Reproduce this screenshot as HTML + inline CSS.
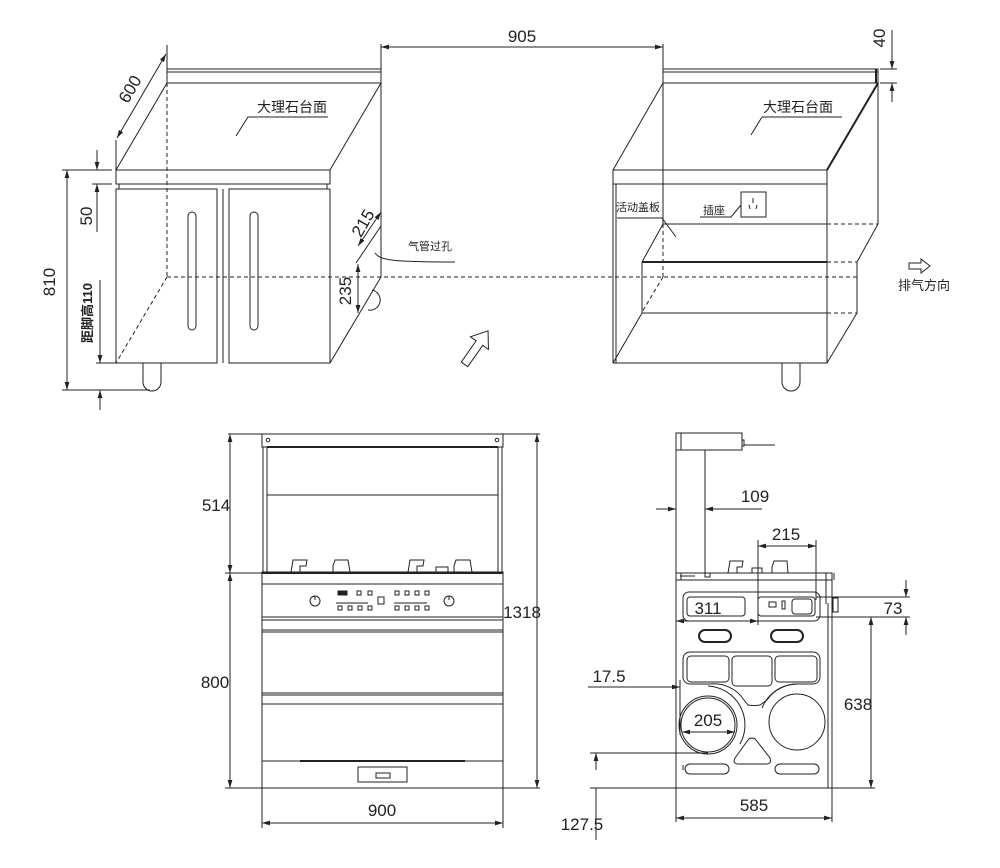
<!DOCTYPE html>
<html><head><meta charset="utf-8"><style>
html,body{margin:0;padding:0;background:#fff}
svg{display:block}
text{font-family:"Liberation Sans","Noto Sans CJK SC",sans-serif;fill:#222}
.d{font-size:17px;font-family:"Liberation Sans",sans-serif}
.c{font-size:13px}
</style></head><body>
<svg width="1000" height="868" viewBox="0 0 1000 868" xmlns="http://www.w3.org/2000/svg">
<defs>
<marker id="a" viewBox="0 0 10 10" refX="10" refY="5" markerWidth="8" markerHeight="8" orient="auto-start-reverse" markerUnits="userSpaceOnUse"><path d="M0,2L10,5L0,8z" fill="#222"/></marker>
</defs>
<g stroke="#222" fill="none" stroke-width="1">
<!-- LEFT CABINET -->
<rect x="167" y="69" width="214" height="14"/>
<line x1="167" y1="72" x2="381" y2="72"/>
<path d="M116,170 L167,83 M330,170 L381,83"/>
<rect x="116" y="170" width="214" height="14"/>
<path d="M119,184 V189 M327,184 V189"/>
<rect x="116" y="189" width="101" height="174"/>
<rect x="229" y="189" width="101" height="174"/>
<path d="M217,189 V363 M223,189 V363"/>
<rect x="188" y="212" width="8" height="118" rx="4"/>
<rect x="250" y="212" width="8" height="118" rx="4"/>
<path d="M381,83 V277 L330,363"/>
<path d="M143,363 V382 A9,9 0 0 0 161,382 V363"/>
<path d="M372,290 A10,10 0 0 1 368,310" />
<path d="M167,83 V277 M167,277 H860 M167,277 L116,363" stroke-dasharray="4,3"/>
<!-- dims left -->
<path d="M62,170 H112 M62,390 H150"/>
<line x1="67" y1="170" x2="67" y2="390" marker-start="url(#a)" marker-end="url(#a)"/>
<path d="M97,150 V170 M97,184 V232 M92,184 H112"/>
<line x1="97" y1="152" x2="97" y2="170" marker-end="url(#a)"/>
<line x1="97" y1="202" x2="97" y2="184" marker-end="url(#a)"/>
<line x1="100" y1="280" x2="100" y2="363" marker-end="url(#a)"/>
<line x1="100" y1="410" x2="100" y2="390" marker-end="url(#a)"/>
<path d="M96,363 H116"/>
<path d="M116,140 V170 M167,45 V69"/>
<line x1="117" y1="138" x2="166" y2="54" marker-start="url(#a)" marker-end="url(#a)"/>
<line x1="381" y1="44" x2="381" y2="69"/>
<line x1="663" y1="44" x2="663" y2="69"/>
<line x1="381" y1="47" x2="663" y2="47" marker-start="url(#a)" marker-end="url(#a)"/>
<line x1="358" y1="246" x2="381" y2="212" marker-start="url(#a)" marker-end="url(#a)"/>
<path d="M356,263 L381,226"/>
<line x1="358" y1="264" x2="358" y2="313" marker-start="url(#a)" marker-end="url(#a)"/>
<path d="M375,253 C380,260 390,262 455,262"/>
<path d="M236,136 L248,117 H328"/>
<path transform="translate(476,348) rotate(35)" d="M0,-21 L-11,-6 H-4 V20 H4 V-6 H11 Z"/>
<!-- RIGHT CABINET -->
<rect x="663" y="69" width="215" height="14"/>
<line x1="663" y1="72" x2="878" y2="72"/>
<line x1="876" y1="69" x2="876" y2="83" stroke-width="2"/>
<path d="M613,170 L663,83 M827,170 L878,83"/>
<line x1="827" y1="170" x2="878" y2="83" stroke-width="2"/>
<rect x="613" y="170" width="214" height="14"/>
<path d="M613,184 V363 H827 V184 M616,184 V363"/>
<path d="M878,83 V224 L857,262 V313 L827,363"/>
<path d="M663,47 V224 M663,224 H827 M663,224 L642,262 V313 H827 M642,313 L613,363"/>
<line x1="642" y1="262" x2="827" y2="262" stroke-width="2"/>
<path d="M827,224 H878 M827,262 H857 M827,313 H857 M663,224 V277 M580,277 H663 M663,277 L642,312" stroke-dasharray="4,3"/>
<path d="M782,363 V382 A9,9 0 0 0 800,382 V363"/>
<path d="M751,135 L762,117 H842"/>
<path d="M617,218 H662 L676,237"/>
<path d="M700,217 H731 L741,205"/>
<rect x="741" y="192" width="25" height="25"/>
<path d="M753,198 V203 M749,205 L750,209 M757,205 L756,209"/>
<path d="M880,69 H897 M880,83 H897"/>
<line x1="892" y1="30" x2="892" y2="69" marker-end="url(#a)"/>
<line x1="892" y1="102" x2="892" y2="83" marker-end="url(#a)"/>
<path d="M909,263 H921 V259 L930,266 L921,273 V269 H909 Z"/>
<!-- FRONT VIEW -->
<rect x="262" y="434" width="241" height="13"/>
<circle cx="268" cy="440" r="1.8"/><circle cx="497" cy="440" r="1.8"/>
<line x1="267" y1="447" x2="498" y2="447" stroke-width="2"/>
<path d="M263,447 V572 M267,447 V572 M498,447 V572 M502,447 V572 M267,495 H498"/>
<path d="M291,572 L293,560 H307 L306,566 H300 V572 M333,572 V566 L335,560 H348 L350,572 M408,572 L410,560 H424 L423,566 H417 V572 M454,572 V566 L456,560 H470 L472,572"/>
<rect x="436" y="567" width="12" height="5"/>
<rect x="262" y="572" width="241" height="216"/>
<line x1="262" y1="573" x2="503" y2="573" stroke-width="2"/>
<path d="M262,584 H503 M262,617 H503 M262,620 H503 M262,630 H503 M262,632 H503 M262,693 H503 M262,695 H503 M262,704 H503 M262,761 H503"/>
<line x1="300" y1="761" x2="465" y2="761" stroke-width="2"/>
<circle cx="315" cy="601" r="5"/><circle cx="449" cy="601" r="5"/>
<path d="M315,596 V600 M449,596 V600"/>
<path d="M336,603 H368 M394,603 H427"/>
<g stroke-width="1">
<rect x="338" y="591" width="9" height="4" fill="#222"/>
<rect x="357" y="591" width="4" height="4"/><rect x="368" y="591" width="4" height="4"/>
<rect x="338" y="606" width="4" height="4"/><rect x="348" y="606" width="4" height="4"/><rect x="358" y="606" width="4" height="4"/><rect x="368" y="606" width="4" height="4"/>
<rect x="378" y="597" width="6" height="7"/>
<rect x="395" y="591" width="4" height="4"/><rect x="405" y="591" width="4" height="4"/><rect x="415" y="591" width="4" height="4"/><rect x="425" y="591" width="4" height="4"/>
<rect x="395" y="606" width="4" height="4"/><rect x="405" y="606" width="4" height="4"/><rect x="415" y="606" width="4" height="4"/><rect x="425" y="606" width="4" height="4"/>
</g>
<rect x="358" y="767" width="49" height="15"/>
<rect x="376" y="773" width="14" height="5"/>
<path d="M228,434 H540 M225,788 H540 M225,573 H262 M262,788 V828 M503,788 V828"/>
<line x1="230" y1="434" x2="230" y2="573" marker-start="url(#a)" marker-end="url(#a)"/>
<line x1="230" y1="573" x2="230" y2="788" marker-start="url(#a)" marker-end="url(#a)"/>
<line x1="537" y1="434" x2="537" y2="788" marker-start="url(#a)" marker-end="url(#a)"/>
<line x1="262" y1="823" x2="503" y2="823" marker-start="url(#a)" marker-end="url(#a)"/>
<!-- SIDE VIEW -->
<rect x="676" y="433" width="66" height="17"/>
<path d="M681,433 V450 M742,440 H744 V446 H742 M744,445 H775 M676,450 V573 M705,450 V575"/>
<rect x="705" y="573" width="5" height="4"/>
<line x1="656" y1="509" x2="676" y2="509" marker-end="url(#a)"/>
<line x1="762" y1="509" x2="705" y2="509" marker-end="url(#a)"/>
<path d="M728,573 L730,561 H743 L742,567 H737 V573 M772,573 V567 L774,561 H787 L788,573 M752,573 V568 H762 V573"/>
<rect x="676" y="573" width="156" height="215"/>
<path d="M676,580 H832 M681,573 V580 M834,573 V580 M680,576 H695 M826,573 V604 M832,580 V788"/>
<path d="M828,603 V788"/>
<line x1="758" y1="546" x2="816" y2="546" marker-start="url(#a)" marker-end="url(#a)"/>
<path d="M758,540 V625 M816,540 V600"/>
<rect x="683" y="592" width="137" height="29" rx="6"/>
<rect x="687" y="597" width="58" height="19" rx="3"/>
<rect x="758" y="597" width="57" height="19" rx="3"/>
<rect x="769" y="602" width="7" height="5"/><rect x="782" y="601" width="3" height="8"/>
<rect x="792" y="599" width="20" height="15" rx="3"/>
<line x1="676" y1="621" x2="758" y2="621" marker-start="url(#a)" marker-end="url(#a)"/>
<rect x="833" y="598" width="5" height="14"/>
<path d="M816,597 H910 M816,617 H910"/>
<line x1="906" y1="580" x2="906" y2="597" marker-end="url(#a)"/>
<line x1="906" y1="635" x2="906" y2="617" marker-end="url(#a)"/>
<line x1="871" y1="617" x2="871" y2="788" marker-start="url(#a)" marker-end="url(#a)"/>
<path d="M832,788 H875"/>
<rect x="699" y="630" width="32" height="12" rx="6" stroke-width="2"/>
<rect x="771" y="630" width="32" height="12" rx="6" stroke-width="2"/>
<path d="M690,652 H813 A7,7 0 0 1 820,659 V677 A7,7 0 0 1 813,684 H798 A36,36 0 0 0 767,700 L760,705 A36,36 0 0 1 748,705 L744,700 A36,36 0 0 0 710,684 H690 A7,7 0 0 1 683,677 V659 A7,7 0 0 1 690,652 Z"/>
<rect x="687" y="656" width="42" height="26" rx="4"/>
<rect x="732" y="656" width="40" height="30" rx="4"/>
<rect x="775" y="656" width="42" height="26" rx="4"/>
<circle cx="708" cy="725" r="27"/><circle cx="708" cy="725" r="29"/>
<path d="M708,686 A39,39 0 0 1 740,744"/>
<circle cx="797" cy="722" r="28"/>
<path d="M797,684 A38,38 0 0 0 762,708"/>
<path d="M735,758 L748,740 A5,5 0 0 1 756,740 L770,758 Q772,764 766,764 H739 Q732,764 735,758 Z"/>
<rect x="685" y="764" width="44" height="10" rx="5"/>
<rect x="775" y="764" width="44" height="10" rx="5"/>
<line x1="683" y1="765" x2="683" y2="770"/>
<line x1="588" y1="687" x2="680" y2="687" marker-end="url(#a)"/>
<path d="M680,680 V735"/>
<line x1="682" y1="732" x2="735" y2="732" marker-start="url(#a)" marker-end="url(#a)"/>
<path d="M590,753 H708 M590,788 H676 M676,788 V822 M832,788 V822"/>
<line x1="596" y1="770" x2="596" y2="753" marker-end="url(#a)"/>
<line x1="596" y1="788" x2="596" y2="840"/>
<line x1="676" y1="818" x2="832" y2="818" marker-start="url(#a)" marker-end="url(#a)"/>
</g>
<!-- TEXT -->
<text class="d" x="55" y="282" transform="rotate(-90 55 282)" text-anchor="middle">810</text>
<text class="d" x="92" y="216" transform="rotate(-90 92 216)" text-anchor="middle">50</text>
<text x="92" y="313" transform="rotate(-90 92 313)" text-anchor="middle" style="font-size:13px;font-weight:bold">距脚高110</text>
<text class="d" x="135" y="92" transform="rotate(-60 135 92)" text-anchor="middle">600</text>
<text class="d" x="522" y="42" text-anchor="middle">905</text>
<text class="d" x="368" y="226" transform="rotate(-60 368 226)" text-anchor="middle">215</text>
<text class="d" x="351" y="291" transform="rotate(-90 351 291)" text-anchor="middle">235</text>
<text class="c" x="292" y="112" text-anchor="middle" style="font-size:14px">大理石台面</text>
<text class="c" x="798" y="112" text-anchor="middle" style="font-size:14px">大理石台面</text>
<text class="c" x="430" y="250" text-anchor="middle" style="font-size:11px">气管过孔</text>
<text class="c" x="638" y="211" text-anchor="middle" style="font-size:11px">活动盖板</text>
<text class="c" x="714" y="214" text-anchor="middle" style="font-size:11px">插座</text>
<text class="d" x="885" y="38" transform="rotate(-90 885 38)" text-anchor="middle">40</text>
<text class="c" x="924" y="290" text-anchor="middle" style="font-size:13px">排气方向</text>
<text class="d" x="216" y="511" text-anchor="middle">514</text>
<text class="d" x="215" y="688" text-anchor="middle">800</text>
<text class="d" x="522" y="618" text-anchor="middle">1318</text>
<text class="d" x="382" y="816" text-anchor="middle">900</text>
<text class="d" x="755" y="502" text-anchor="middle">109</text>
<text class="d" x="786" y="540" text-anchor="middle">215</text>
<text class="d" x="708" y="614" text-anchor="middle">311</text>
<text class="d" x="893" y="614" text-anchor="middle">73</text>
<text class="d" x="858" y="710" text-anchor="middle">638</text>
<text class="d" x="609" y="682" text-anchor="middle">17.5</text>
<text class="d" x="708" y="726" text-anchor="middle">205</text>
<text class="d" x="582" y="830" text-anchor="middle">127.5</text>
<text class="d" x="754" y="811" text-anchor="middle">585</text>
</svg>
</body></html>
